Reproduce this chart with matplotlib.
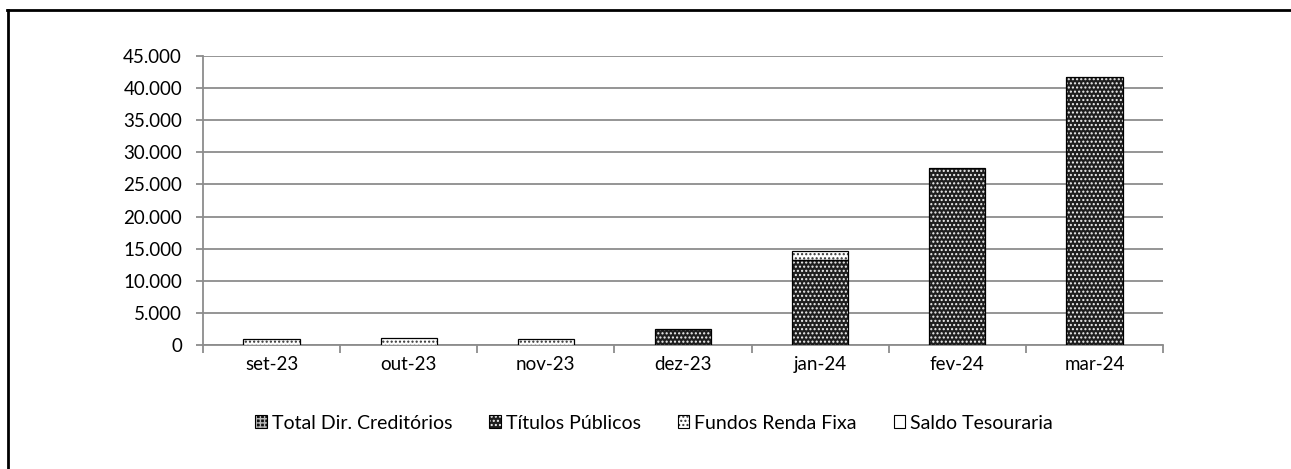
import matplotlib.pyplot as plt
import numpy as np
from matplotlib.patches import Patch
from matplotlib.lines import Line2D
from matplotlib.ticker import FuncFormatter

plt.rcParams['font.family'] = ['Lato', 'DejaVu Sans']
plt.rcParams['hatch.linewidth'] = 1.0

# ==================== DATA ====================
meses = ['set-23', 'out-23', 'nov-23', 'dez-23', 'jan-24', 'fev-24', 'mar-24']
total_dir_creditorios = [0, 0, 0, 0, 0, 0, 0]
titulos_publicos = [0, 0, 0, 2450, 13300, 27600, 41700]
fundos_renda_fixa = [1000, 1100, 950, 0, 1300, 0, 0]
saldo_tesouraria = [0, 0, 0, 0, 0, 0, 0]

series = [
    ('Total Dir. Creditórios', total_dir_creditorios, '#111111', '#bbbbbb', '++++'),
    ('Títulos Públicos', titulos_publicos, '#1e1e1e', '#f0f0f0', '....'),
    ('Fundos Renda Fixa', fundos_renda_fixa, 'white', '#333333', '....'),
    ('Saldo Tesouraria', saldo_tesouraria, 'white', '#333333', '.'),
]

# ==================== PLOT ====================
fig = plt.figure(figsize=(12.91, 4.69), dpi=100)
ax = fig.add_axes([0.1572, 0.2644, 0.7437, 0.6162])

x = np.arange(len(meses))
bottom = np.zeros(len(meses))
handles = []
for nome, vals, face, hcol, hatch in series:
    vals = np.array(vals, dtype=float)
    ax.bar(x, vals, width=0.41, bottom=bottom, color=face, edgecolor=hcol,
           hatch=hatch, linewidth=0, zorder=3)
    ax.bar(x, vals, width=0.41, bottom=bottom, fill=False, edgecolor='black',
           linewidth=np.where(vals > 0, 0.9, 0), zorder=4)
    bottom += vals
    handles.append((Patch(facecolor=face, edgecolor=hcol, hatch=hatch, linewidth=0),
                    Patch(fill=False, edgecolor='black', linewidth=0.8)))

ax.set_xlim(-0.5, len(meses) - 0.5)
ax.set_ylim(0, 45000)
ax.set_yticks(np.arange(0, 45001, 5000))
ax.yaxis.set_major_formatter(FuncFormatter(lambda v, p: f'{int(v):,}'.replace(',', '.')))
ax.set_xticks(x)
ax.set_xticklabels(meses)
ax.set_xticks(np.arange(-0.5, len(meses), 1), minor=True)

ax.grid(axis='y', color='#8c8c8c', linewidth=1.3, zorder=0)
for s in ['top', 'right']:
    ax.spines[s].set_visible(False)
for s in ['left', 'bottom']:
    ax.spines[s].set_color('#8c8c8c')
    ax.spines[s].set_linewidth(1.3)

ax.tick_params(axis='y', length=5, color='#8c8c8c', width=1.3, labelsize=13.5, pad=10)
ax.tick_params(axis='x', which='major', length=0, labelsize=13.5, pad=8)
ax.tick_params(axis='x', which='minor', length=6, color='#8c8c8c', width=1.3)

ax.legend(handles, [s[0] for s in series], loc='center', bbox_to_anchor=(0.47, -0.27),
          ncol=4, frameon=False, fontsize=14, handlelength=0.6, handleheight=0.6,
          handletextpad=0.25, columnspacing=1.9)

# outer frame (left and top only, the rest is clipped)
fig.add_artist(Line2D([0.0062, 0.0062], [0, 0.979], color='black', linewidth=2,
                      transform=fig.transFigure))
fig.add_artist(Line2D([0.0054, 1.0], [0.978, 0.978], color='black', linewidth=2,
                      transform=fig.transFigure))

fig.savefig('out.png', dpi=100)
